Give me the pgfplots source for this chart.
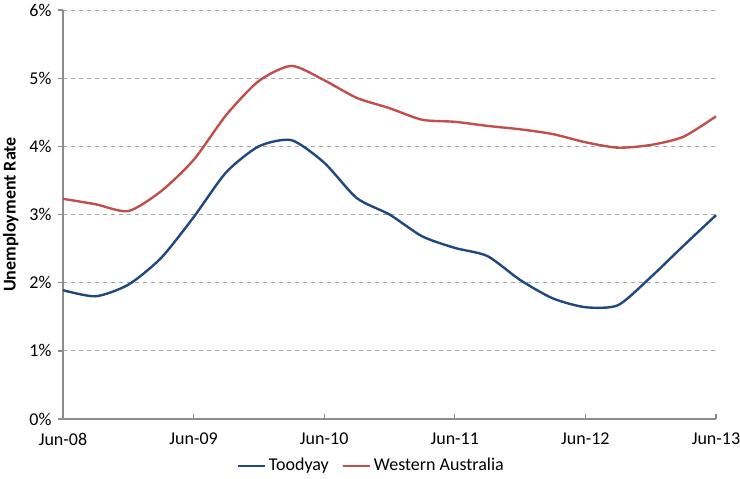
\documentclass[border=0pt]{standalone}
\usepackage{fontspec}
\setmainfont{Carlito}
\usepackage{pgfplots}
\pgfplotsset{compat=1.18}
\definecolor{toody}{HTML}{1F497D}
\definecolor{wacol}{HTML}{C0504D}
\definecolor{axgray}{HTML}{8C8C8C}
\definecolor{grdgray}{HTML}{A6A6A6}
\begin{document}
\fontsize{13.5}{16}\selectfont
\begin{tikzpicture}
\begin{axis}[
  scale only axis,
  width=489.75pt, height=306.75pt,
  xmin=0, xmax=20, ymin=0, ymax=6,
  axis lines*=left,
  axis line style={axgray, line width=1pt, -},
  xtick={0,4,8,12,16,20},
  xticklabels={Jun-08,Jun-09,Jun-10,Jun-11,Jun-12,Jun-13},
  ytick={0,1,2,3,4,5,6},
  yticklabels={0\%,1\%,2\%,3\%,4\%,5\%,6\%},
  ymajorgrids,
  grid style={grdgray, dashed, line width=0.6pt},
  tick align=inside,
  major tick length=3.75pt,
  tick style={axgray, line width=1pt},
  y tick style={xshift=-3.75pt},
  xticklabel style={yshift=-6pt},
  yticklabel style={xshift=-4pt},
  /pgf/number format/assume math mode=true,
  ylabel={\bfseries Unemployment Rate},
  ylabel style={yshift=-1pt},
  legend columns=2,
  legend style={draw=none, fill=none, at={(0.473,-0.115)}, anchor=center,
    /tikz/every even column/.append style={column sep=8pt}},
  legend image code/.code={\draw[#1, line width=1.8pt] (0pt,0pt) -- (20pt,0pt);},
  clip=false,
]
\addplot[toody, line width=1.8pt, smooth, tension=0.42] coordinates {
(0,1.89) (1,1.80) (2,1.97) (3,2.36) (4,2.96) (5,3.62) (6,4.00) (7,4.09)
(8,3.76) (9,3.24) (10,3.00) (11,2.68) (12,2.51) (13,2.39) (14,2.04)
(15,1.77) (16,1.64) (17,1.67) (18,2.08) (19,2.54) (20,2.99)};
\addlegendentry{Toodyay}
\addplot[wacol, line width=1.8pt, smooth, tension=0.42] coordinates {
(0,3.23) (1,3.15) (2,3.05) (3,3.34) (4,3.80) (5,4.46) (6,4.96) (7,5.18)
(8,4.97) (9,4.71) (10,4.56) (11,4.39) (12,4.36) (13,4.30) (14,4.25)
(15,4.18) (16,4.06) (17,3.98) (18,4.02) (19,4.14) (20,4.44)};
\addlegendentry{Western Australia}
\end{axis}
\pgfresetboundingbox
\path ([shift={(-47.25pt,-45pt)}]current axis.south west) rectangle ([shift={(18pt,7.5pt)}]current axis.north east);
\end{tikzpicture}
\end{document}
